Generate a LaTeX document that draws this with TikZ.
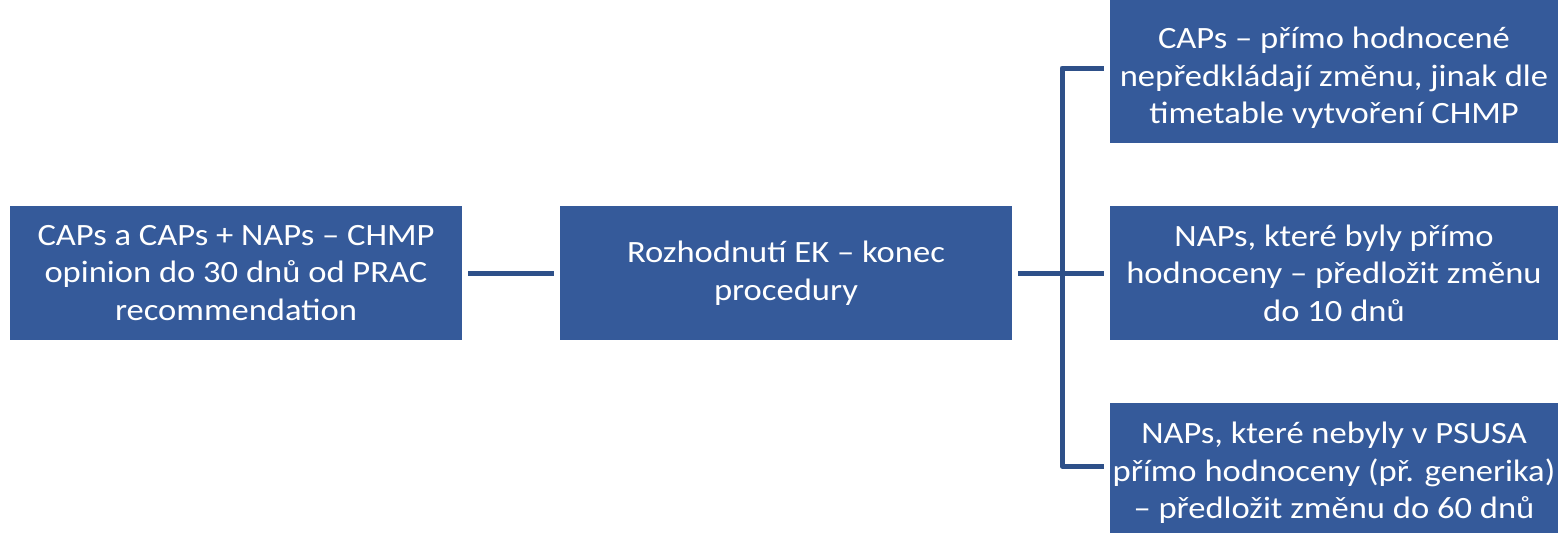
\documentclass[tikz,border=0pt]{standalone}
\usepackage{fontspec}
\setmainfont{Carlito}[FakeStretch=1.115]
\definecolor{boxblue}{HTML}{355A9A}
\definecolor{lineblue}{HTML}{2E5089}
\begin{document}
\begin{tikzpicture}[x=1pt,y=-1pt,
  box/.style={fill=boxblue,draw=none,text=white,align=center,inner sep=0pt,
    font=\fontsize{31}{37.5}\selectfont},
  boxtext/.style={text=white,align=center,inner sep=0pt,
    font=\fontsize{31}{37.5}\selectfont},
  conn/.style={draw=lineblue,line width=5pt,line join=round,shorten <=6pt,shorten >=6pt}]
\useasboundingbox (0,0) rectangle (1558,533);
\node[box,minimum width=452pt,minimum height=134pt] (b1) at (236,273)
  {CAPs a CAPs + NAPs – CHMP\\opinion do 30 dnů od PRAC\\recommendation};
\node[box,minimum width=452pt,minimum height=134pt] (b2) at (786,273)
  {Rozhodnutí EK – konec\\procedury};
\node[box,minimum width=448pt,minimum height=143pt] (b3) at (1334,71.5) {};
\node[boxtext] (b3t) at (1334,78)
  {CAPs – přímo hodnocené\\nepředkládají změnu, jinak dle\\timetable vytvoření CHMP};
\node[box,minimum width=448pt,minimum height=134pt] (b4) at (1334,273)
  {NAPs, které byly přímo\\hodnoceny – předložit změnu\\do 10 dnů};
\node[box,minimum width=448pt,minimum height=130pt] (b5) at (1334,468) {};
\node[boxtext] (b5t) at (1334,473)
  {NAPs, které nebyly v PSUSA\\přímo hodnoceny (př. generika)\\– předložit změnu do 60 dnů};
\coordinate (j) at (1062,273);
\draw[conn] (b1.east) -- (b2.west);
\draw[conn] (b2.east) -- (b4.west);
\draw[conn] ([yshift=3.5pt]b3.west) -| (j) |- ([yshift=2pt]b5.west);
\end{tikzpicture}
\end{document}
